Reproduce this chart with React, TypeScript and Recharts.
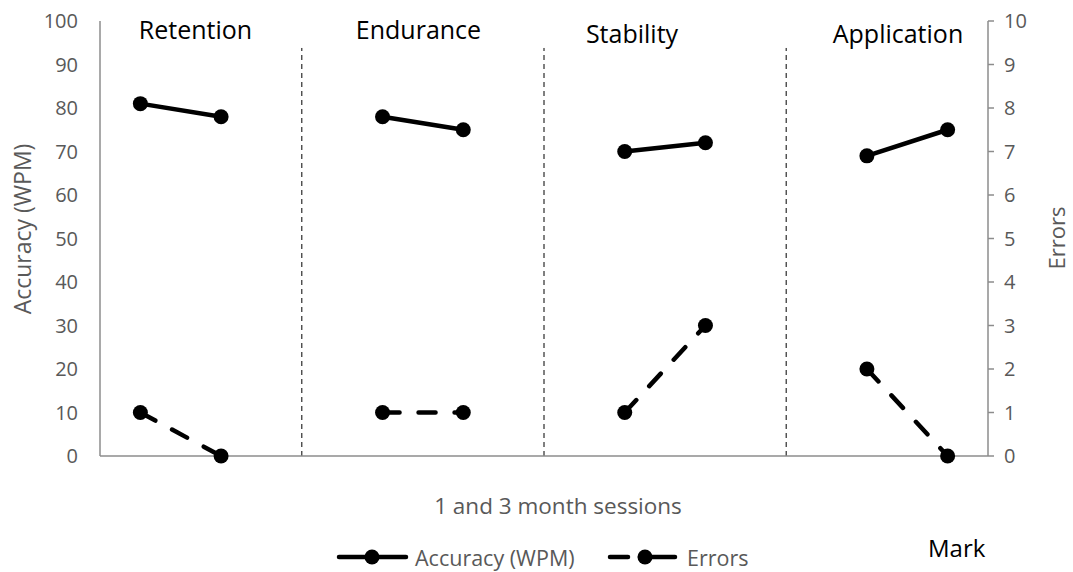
import React from 'react';
import { ComposedChart, Line, XAxis, YAxis, ReferenceLine, ReferenceDot, Legend } from 'recharts';

// ---- data ----
const groups = ['Retention', 'Endurance', 'Stability', 'Application'];
const sessions = ['1 month', '3 month'];
const accuracy = [81, 78, 78, 75, 70, 72, 69, 75];
const errors = [1, 0, 1, 1, 1, 3, 2, 0];
const leftTicks = [0, 10, 20, 30, 40, 50, 60, 70, 80, 90, 100];
const rightTicks = [0, 1, 2, 3, 4, 5, 6, 7, 8, 9, 10];

// ---- layout / style ----
const FONT = '"Open Sans", sans-serif';
const GRAY_TEXT = '#595959';
const GRAY_AXIS = '#8c8c8c';
const titleX = [1.183, 3.945, 6.59, 9.885];
const titleY = [97.9, 97.9, 97.0, 97.0];

const rows: { x: number; acc: number | null; err: number | null }[] = [];
groups.forEach((g, gi) => {
  sessions.forEach((s, si) => {
    rows.push({ x: gi * 3 + si + 0.5, acc: accuracy[gi * 2 + si], err: errors[gi * 2 + si] });
  });
  if (gi < groups.length - 1) rows.push({ x: gi * 3 + 2.5, acc: null, err: null });
});
const separators = groups.slice(1).map((_, i) => i * 3 + 2.5);

const LegendContent = () => (
  <svg width={1073} height={46} style={{ display: 'block' }}>
    <line x1={339} y1={31} x2={406} y2={31} stroke="#000" strokeWidth={4.5} strokeLinecap="round" />
    <circle cx={372} cy={31} r={7.5} fill="#000" />
    <text x={415} y={31} dominantBaseline="central" fill={GRAY_TEXT} fontSize={21.5} fontFamily={FONT}>
      Accuracy (WPM)
    </text>
    <line x1={610} y1={31} x2={628} y2={31} stroke="#000" strokeWidth={4.5} strokeLinecap="round" />
    <line x1={640} y1={31} x2={675} y2={31} stroke="#000" strokeWidth={4.5} strokeLinecap="round" />
    <circle cx={645} cy={31} r={7.5} fill="#000" />
    <text x={687} y={31} dominantBaseline="central" fill={GRAY_TEXT} fontSize={21.5} fontFamily={FONT}>
      Errors
    </text>
    <text x={928} y={21} dominantBaseline="central" fill="#000" fontSize={24} fontFamily={FONT}>
      Mark
    </text>
  </svg>
);

export default function App() {
  return (
    <div style={{ position: 'absolute', left: 0, top: 0, width: 1073, height: 572, background: '#fff' }}>
      <ComposedChart width={1073} height={572} data={rows} margin={{ top: 21, right: 0, bottom: 0, left: 0 }}>
        <XAxis
          dataKey="x"
          type="number"
          domain={[0, 11]}
          ticks={[]}
          tick={false}
          tickLine={false}
          axisLine={{ stroke: GRAY_AXIS, strokeWidth: 1.5 }}
          height={70}
          label={{
            content: (p: any) => {
              const vb = p.viewBox || {};
              return (
                <text x={vb.x + vb.width / 2 + 14} y={514} textAnchor="middle" fill={GRAY_TEXT} fontSize={22.5} fontFamily={FONT}>
                  1 and 3 month sessions
                </text>
              );
            },
          }}
        />
        <YAxis
          yAxisId="left"
          orientation="left"
          width={100}
          domain={[0, 100]}
          ticks={leftTicks}
          interval={0}
          tickLine={false}
          tickMargin={16}
          axisLine={{ stroke: GRAY_AXIS, strokeWidth: 1.5 }}
          tick={{ fill: GRAY_TEXT, fontSize: 20, fontFamily: FONT }}
          label={{
            content: () => (
              <text
                x={22}
                y={229}
                textAnchor="middle"
                dominantBaseline="central"
                transform="rotate(-90, 22, 229)"
                fill={GRAY_TEXT}
                fontSize={23}
                fontFamily={FONT}
              >
                Accuracy (WPM)
              </text>
            ),
          }}
        />
        <YAxis
          yAxisId="right"
          orientation="right"
          width={85}
          domain={[0, 10]}
          ticks={rightTicks}
          interval={0}
          tickSize={6}
          tickMargin={10}
          tickLine={{ stroke: GRAY_AXIS, strokeWidth: 1.5 }}
          axisLine={{ stroke: GRAY_AXIS, strokeWidth: 1.5 }}
          tick={{ fill: GRAY_TEXT, fontSize: 20, fontFamily: FONT }}
          label={{
            content: () => (
              <text
                x={1056}
                y={238}
                textAnchor="middle"
                dominantBaseline="central"
                transform="rotate(-90, 1056, 238)"
                fill={GRAY_TEXT}
                fontSize={22}
                fontFamily={FONT}
              >
                Errors
              </text>
            ),
          }}
        />
        {separators.map((sx) => (
          <ReferenceLine
            key={sx}
            yAxisId="left"
            segment={[{ x: sx, y: 0 }, { x: sx, y: 93.8 }]}
            stroke="#000"
            strokeWidth={1}
            strokeDasharray="5 4"
          />
        ))}
        {groups.map((g, i) => (
          <ReferenceDot
            key={g}
            yAxisId="left"
            x={titleX[i]}
            y={titleY[i]}
            r={0}
            fill="none"
            stroke="none"
            label={{ value: g, position: 'center', fill: '#000', fontSize: 25, fontFamily: FONT }}
          />
        ))}
        <Line
          yAxisId="left"
          dataKey="acc"
          stroke="#000"
          strokeWidth={4.5}
          connectNulls={false}
          dot={{ r: 7.5, fill: '#000', stroke: 'none' }}
          activeDot={false}
          isAnimationActive={false}
          legendType="none"
        />
        <Line
          yAxisId="right"
          dataKey="err"
          stroke="#000"
          strokeWidth={4.5}
          strokeDasharray="17 19"
          strokeLinecap="round"
          connectNulls={false}
          dot={{ r: 7.5, fill: '#000', stroke: 'none', strokeDasharray: '0' }}
          activeDot={false}
          isAnimationActive={false}
          legendType="none"
        />
        <Legend verticalAlign="bottom" height={46} content={() => <LegendContent />} />
      </ComposedChart>
    </div>
  );
}
